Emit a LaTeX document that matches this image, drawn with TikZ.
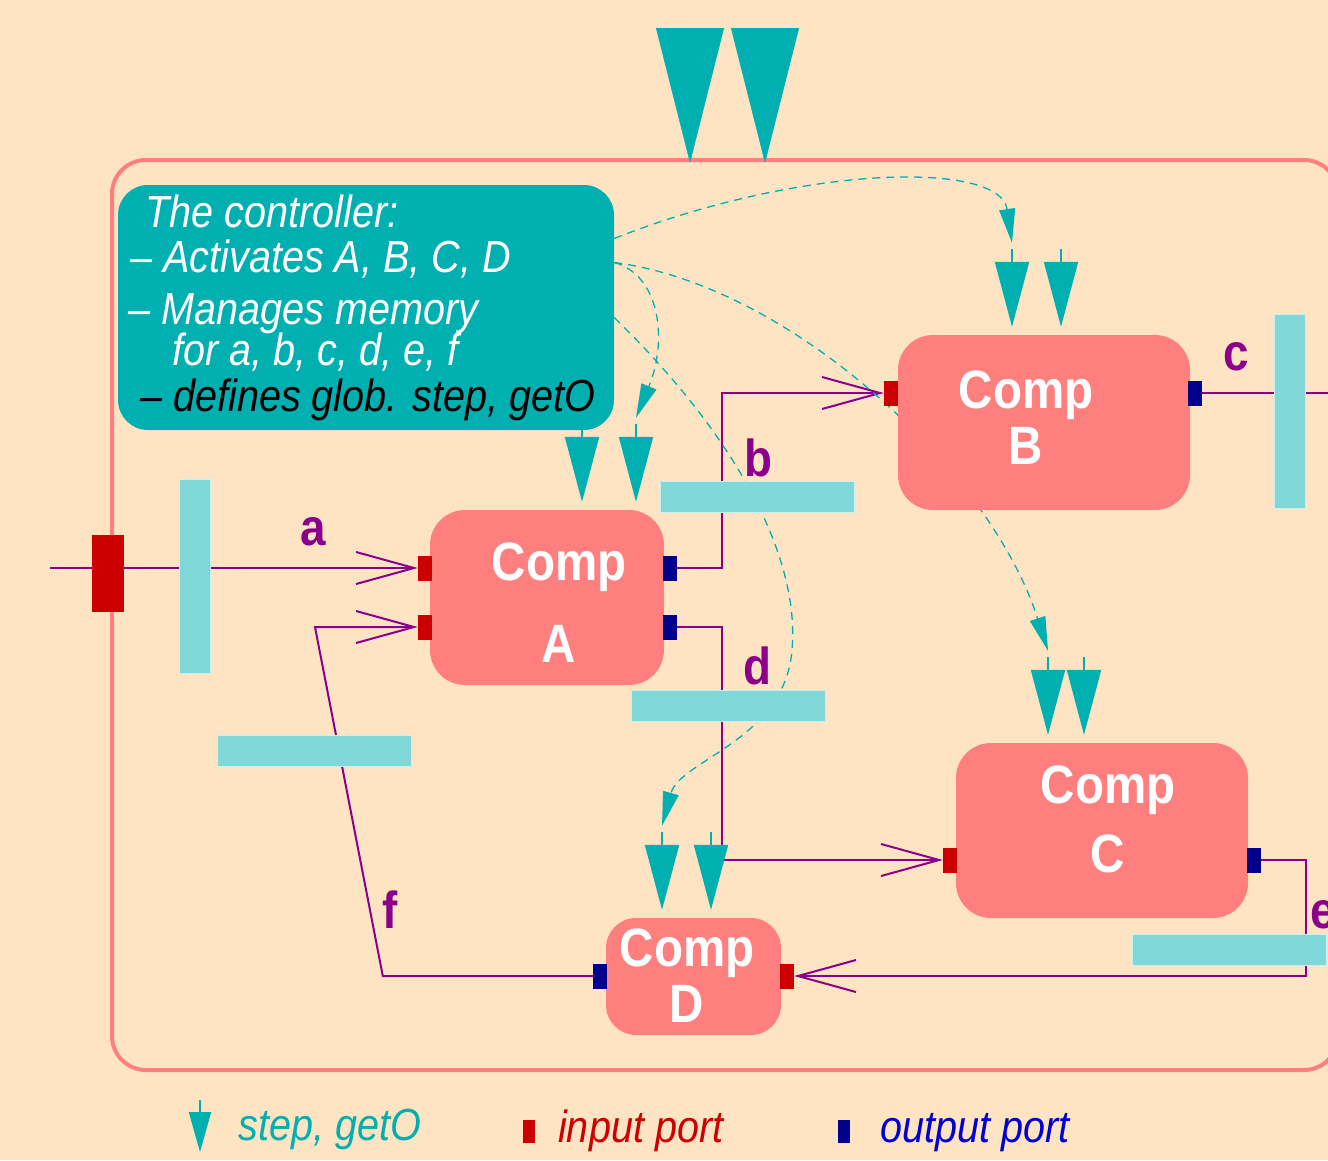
\documentclass[tikz,border=0pt]{standalone}
\usepackage{fontspec}
\setmainfont{Liberation Sans}[FakeStretch=0.88]
\usetikzlibrary{arrows.meta,positioning,calc}
\definecolor{bgcol}{RGB}{255,228,196}
\definecolor{ctrlteal}{RGB}{0,176,176}
\definecolor{compred}{RGB}{255,127,127}
\definecolor{tray}{RGB}{128,216,216}
\definecolor{trayedge}{RGB}{200,240,240}
\definecolor{inred}{RGB}{204,0,0}
\definecolor{outblue}{RGB}{0,0,140}
\definecolor{legblue}{RGB}{0,0,210}
\definecolor{wirepurple}{RGB}{139,0,139}
\pgfdeclarelayer{bg}
\pgfdeclarelayer{back}
\pgfsetlayers{bg,back,main}
\tikzset{
  comp/.style={fill=compred,rounded corners=35pt,inner sep=0pt},
  comptext/.style={text=white,anchor=base,inner sep=0pt,font=\fontsize{54}{56}\selectfont\bfseries},
  inport/.style={fill=inred,minimum width=14pt,minimum height=25pt,inner sep=0pt},
  outport/.style={fill=outblue,minimum width=14pt,minimum height=25pt,inner sep=0pt},
  htray/.style={fill=tray,draw=trayedge,line width=1pt,minimum width=194pt,minimum height=31pt,inner sep=0pt},
  vtray/.style={fill=tray,draw=trayedge,line width=1pt,minimum width=31pt,minimum height=194pt,inner sep=0pt},
  wire/.style={draw=wirepurple,line width=2pt},
  feed/.style={wire,-{Straight Barb[length=58pt,width=32pt]}},
  wirelabel/.style={text=wirepurple,anchor=base,inner sep=0pt,font=\fontsize{52}{52}\selectfont\bfseries},
  steparr/.style={draw=ctrlteal,line width=2pt,-{Triangle[length=65pt,width=34pt]}},
  ctrlarr/.style={draw=ctrlteal,line width=1.3pt,dash pattern=on 8pt off 6pt,-{Triangle[length=34pt,width=16pt]}},
  legtext/.style={anchor=base west,inner sep=0pt,font=\fontsize{45}{45}\selectfont\itshape}
}

\begin{document}
\begin{tikzpicture}[x=1pt,y=-1pt]
  \useasboundingbox (0,0) rectangle (1328,1160);
  \begin{pgfonlayer}{bg}
    \fill[bgcol] (0,0) rectangle (1328,1160);
    \node[draw=compred,line width=4pt,rounded corners=34pt,minimum width=1226pt,minimum height=910pt,inner sep=0pt] (sys) at (725,615) {};
  \end{pgfonlayer}

  % controller
  \node[fill=ctrlteal,rounded corners=30pt,minimum width=496pt,minimum height=245pt,inner sep=0pt] (ctrl) at (366,307.5) {};
  \node[anchor=north west,inner sep=0pt,align=left,text=white,font=\fontsize{45}{45}\selectfont\itshape] (ctrltext) at (128,195)
    {\hspace*{17pt}The controller:\\
     \hspace*{2pt}\textendash\ Activates A, B, C, D\\[7pt]
     \textendash\ Manages memory\\[-4pt]
     \hspace*{44pt}for a, b, c, d, e, f\\[1pt]
     \hspace*{12pt}\textcolor{black}{\textendash\ defines glob. step, getO}};

  % components
  \node[comp,minimum width=234pt,minimum height=175pt] (A) at (547,597.5) {};
  \node[comp,minimum width=292pt,minimum height=175pt] (B) at (1044,422.5) {};
  \node[comp,minimum width=292pt,minimum height=175pt] (C) at (1102,830.5) {};
  \node[comp,minimum width=175pt,minimum height=117pt,rounded corners=30pt] (D) at (693.5,976.5) {};
  \foreach \n/\x/\ya/\yb in {A/559/580/662,B/1026/408/464,C/1108/803/872,D/687/966/1022}{
    \node[comptext] (\n1) at (\x,\ya) {Comp};
    \node[comptext] (\n2) at (\x,\yb) {\n};
  }

  % ports
  \node[inport] (Ain1) at (425,568) {};
  \node[inport] (Ain2) at (425,627) {};
  \node[outport] (Aout1) at (670,568) {};
  \node[outport] (Aout2) at (670,627) {};
  \node[inport] (Bin) at (891,393) {};
  \node[outport] (Bout) at (1195,393) {};
  \node[inport] (Cin) at (950,860) {};
  \node[outport] (Cout) at (1254,860) {};
  \node[outport] (Dout) at (600,976) {};
  \node[inport] (Din) at (787,976) {};

  % memory trays
  \node[fill=inred,minimum width=32pt,minimum height=77pt,inner sep=0pt] (buf) at (108,573.5) {};
  \node[vtray] (ta) at (195,576) {};
  \node[htray] (tb) at (757,496.5) {};
  \node[vtray] (tc) at (1289.5,411.5) {};
  \node[htray] (td) at (728,705.5) {};
  \node[htray] (te) at (1229,949.5) {};
  \node[htray] (tf) at (314,750.5) {};
  \foreach \l/\x/\y in {a/313/545,b/758/476,c/1236/370,d/757/684,e/1323/928,f/390/928}
    \node[wirelabel] (l\l) at (\x,\y) {\l};

  % step, getO
  \draw[ctrlteal,-{Triangle[length=135pt,width=68pt]}] ([xshift=-35pt,yshift=129pt]sys.north) -- ([xshift=-35pt,yshift=-5pt]sys.north);
  \draw[ctrlteal,-{Triangle[length=135pt,width=68pt]}] ([xshift=40pt,yshift=129pt]sys.north) -- ([xshift=40pt,yshift=-5pt]sys.north);
  \foreach \n/\dx/\k in {A/35/1,A/89/2,B/-32/1,B/17/2,C/-54/1,C/-18/2,D/-31.5/1,D/17.5/2}
    \draw[steparr] ([xshift=\dx pt,yshift=86pt]\n.north) coordinate (top\n\k) -- ([xshift=\dx pt,yshift=8pt]\n.north);

  \begin{pgfonlayer}{back}
    \coordinate (ain) at (50,568);
    \coordinate (cend) at (1340,393);
    \draw[feed] (ain) -- (Ain1.west);
    \draw[feed] (Aout1.east) -- ++(45,0) |- (Bin.west);
    \draw[feed] (Aout2.east) -- ++(45,0) |- (Cin.west);
    \draw[wire] (Bout.east) -- (cend);
    \draw[feed] (Cout.east) -- ++(45,0) |- (Din.east);
    \draw[feed] (Dout.west) -- ++(-210,0) -- (315,627) -- (Ain2.west);
    \draw[ctrlarr] ([yshift=69pt]ctrl.east) .. controls (800,165) and (1000,160) .. ([yshift=6pt]topB1);
    \draw[ctrlarr] ([yshift=45pt]ctrl.east) .. controls (660,275) and (668,340) .. ([yshift=6pt]topA2);
    \draw[ctrlarr] ([yshift=45pt]ctrl.east) .. controls (790,285) and (990,470) .. ([yshift=6pt]topC1);
    \draw[ctrlarr] ([yshift=-10pt]ctrl.east) .. controls (740,440) and (800,560) .. (792,650)
      .. controls (785,740) and (680,760) .. ([yshift=6pt]topD1);
  \end{pgfonlayer}

  % legend
  \coordinate (lg1) at (200,1100);
  \coordinate (lg2) at (200,1152);
  \draw[ctrlteal,line width=2pt,-{Triangle[length=40pt,width=22pt]}] (lg1) -- (lg2);
  \node[legtext,text=ctrlteal] (legstep) at (238,1140) {step, getO};
  \node[fill=inred,minimum width=12pt,minimum height=23pt,inner sep=0pt] (legin) at (529,1131) {};
  \node[legtext,text=inred] (legintext) at (558,1142) {input port};
  \node[fill=outblue,minimum width=12pt,minimum height=23pt,inner sep=0pt] (legout) at (844,1131) {};
  \node[legtext,text=legblue] (legouttext) at (880,1142) {output port};
\end{tikzpicture}
\end{document}
